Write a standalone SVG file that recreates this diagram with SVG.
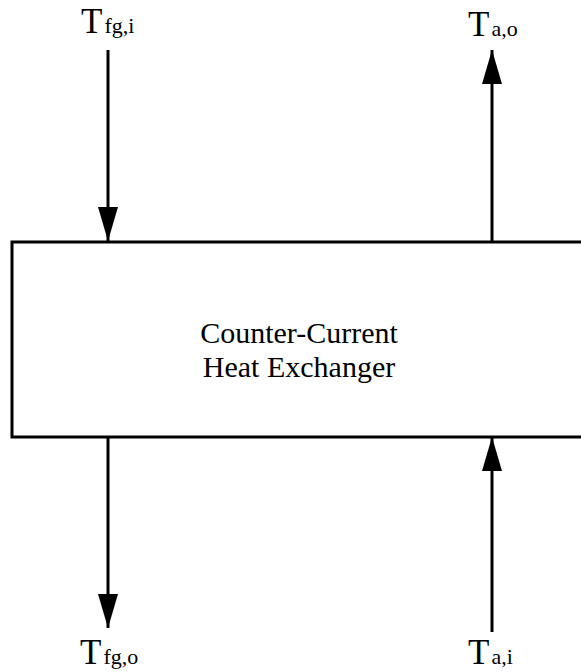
<svg xmlns="http://www.w3.org/2000/svg" width="581" height="672" viewBox="0 0 581 672">
  <style>
    .lbl { font-family: "Liberation Serif", "Times New Roman", serif; fill: #000; }
    .main { font-size: 35px; }
    .sub { font-size: 22px; }
    .body { font-family: "Liberation Serif", "Times New Roman", serif; font-size: 30px; fill: #000; text-anchor: middle; }
    .flow { stroke: #000; stroke-width: 3; fill: none; }
    .box { stroke: #000; stroke-width: 3; fill: #fff; }
  </style>
  <defs>
    <marker id="head" viewBox="0 0 34 20" refX="34" refY="10" markerWidth="34" markerHeight="20" markerUnits="userSpaceOnUse" orient="auto">
      <path d="M0,0 L34,10 L0,20 Z" fill="#000"/>
    </marker>
  </defs>

  <g id="exchanger">
    <rect class="box" x="12" y="242" width="590" height="195"/>
    <text class="body" x="299" y="343">Counter-Current</text>
    <text class="body" x="299" y="377">Heat Exchanger</text>
  </g>

  <g id="connectors">
    <line class="flow" x1="108" y1="50" x2="108" y2="241" marker-end="url(#head)"/>
    <line class="flow" x1="492" y1="242" x2="492" y2="50" marker-end="url(#head)"/>
    <line class="flow" x1="108" y1="437" x2="108" y2="628" marker-end="url(#head)"/>
    <line class="flow" x1="492" y1="632" x2="492" y2="437" marker-end="url(#head)"/>
  </g>

  <g id="label-fg-in">
    <text class="lbl main" x="81" y="33">T<tspan class="sub" dx="2">fg,i</tspan></text>
  </g>
  <g id="label-a-out">
    <text class="lbl main" x="468" y="36">T<tspan class="sub" dx="2">a,o</tspan></text>
  </g>
  <g id="label-fg-out">
    <text class="lbl main" x="80" y="664">T<tspan class="sub" dx="2">fg,o</tspan></text>
  </g>
  <g id="label-a-in">
    <text class="lbl main" x="468" y="664">T<tspan class="sub" dx="2">a,i</tspan></text>
  </g>
</svg>
